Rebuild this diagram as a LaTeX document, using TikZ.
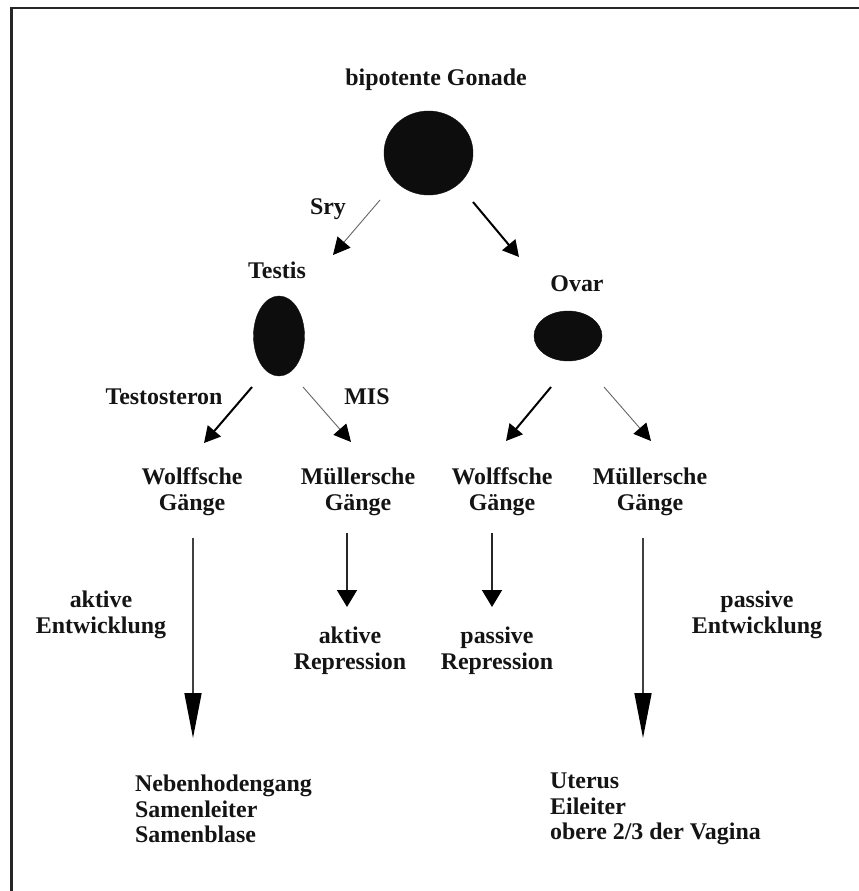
\documentclass[tikz,border=0pt]{standalone}
\usepackage{fontspec}
\setmainfont{Liberation Serif}
\usetikzlibrary{arrows.meta,shapes.geometric}
\begin{document}
\begin{tikzpicture}[x=1bp,y=-1bp,
  lbl/.style={font=\fontsize{24}{26.5}\selectfont\bfseries, inner sep=0pt, align=center, text=black!92},
  lst/.style={font=\fontsize{24}{25.5}\selectfont\bfseries, inner sep=0pt, align=left, anchor=west, text=black!92},
  blob/.style={ellipse, fill=black!95, draw=black!95, inner sep=0pt},
  thinarr/.style={draw=black!60, line width=0.9bp, -{Triangle[length=17bp,width=17bp,color=black]}},
  thickarr/.style={draw=black, line width=2bp, -{Triangle[length=16bp,width=17bp]}},
  shortarr/.style={draw=black!85, line width=1.8bp, -{Triangle[length=17bp,width=20bp,color=black]}},
  longarr/.style={draw=black!75, line width=1.6bp, -{Triangle[length=45bp,width=17bp,color=black]}}
]
\useasboundingbox (0,0) rectangle (859,891);
\fill[white] (0,0) rectangle (859,891);
% frame
\draw[line width=2.5bp, black!85] (11.5,891) -- (11.5,8) -- (859,8);

% gonads
\node[lbl] (gonL) at (436,80) {bipotente Gonade};
\node[blob, minimum width=89bp, minimum height=84bp] (gon) at (428.5,153) {};
\node[lbl] (testisL) at (277,270) {Testis};
\node[blob, minimum width=51bp, minimum height=80bp] (testis) at (279,336) {};
\node[lbl] (ovarL) at (577,284) {Ovar};
\node[blob, minimum width=68bp, minimum height=50bp] (ovar) at (568,336) {};

% labels
\node[lbl] (sry) at (328,209) {Sry};
\node[lbl] (testo) at (164,397) {Testosteron};
\node[lbl] (mis) at (367,397) {MIS};

\node[lbl] (wolff1) at (192,492) {Wolffsche\\Gänge};
\node[lbl] (mull1) at (358,492) {Müllersche\\Gänge};
\node[lbl] (wolff2) at (502,492) {Wolffsche\\Gänge};
\node[lbl] (mull2) at (650,492) {Müllersche\\Gänge};

\node[lbl] (aktent) at (101,615) {aktive\\Entwicklung};
\node[lbl] (aktrep) at (350,651) {aktive\\Repression};
\node[lbl] (pasrep) at (497,651) {passive\\Repression};
\node[lbl] (pasent) at (757,615) {passive\\Entwicklung};

\node[lst] (male) at (135,809) {Nebenhodengang\\Samenleiter\\Samenblase};
\node[lst] (female) at (550,809) {Uterus\\Eileiter\\obere 2/3 der Vagina};

% arrow end points
\coordinate (a1s) at (380,200); \coordinate (a1e) at (333,255);
\coordinate (a2s) at (473,202); \coordinate (a2e) at (519,257);
\coordinate (a3s) at (252,387); \coordinate (a3e) at (204,443);
\coordinate (a4s) at (303,387); \coordinate (a4e) at (351,442);
\coordinate (a5s) at (551,387); \coordinate (a5e) at (506,441);
\coordinate (a6s) at (604,387); \coordinate (a6e) at (651,441);
\coordinate (b1s) at (347,533); \coordinate (b1e) at (347,607);
\coordinate (b2s) at (492,533); \coordinate (b2e) at (492,607);
\coordinate (c1s) at (193,538); \coordinate (c1e) at (193,738);
\coordinate (c2s) at (643,538); \coordinate (c2e) at (643,738);

\draw[thinarr] (a1s) -- (a1e);
\draw[thickarr] (a2s) -- (a2e);
\draw[thickarr] (a3s) -- (a3e);
\draw[thinarr] (a4s) -- (a4e);
\draw[thickarr] (a5s) -- (a5e);
\draw[thinarr] (a6s) -- (a6e);
\draw[shortarr] (b1s) -- (b1e);
\draw[shortarr] (b2s) -- (b2e);
\draw[longarr] (c1s) -- (c1e);
\draw[longarr] (c2s) -- (c2e);
\end{tikzpicture}
\end{document}
